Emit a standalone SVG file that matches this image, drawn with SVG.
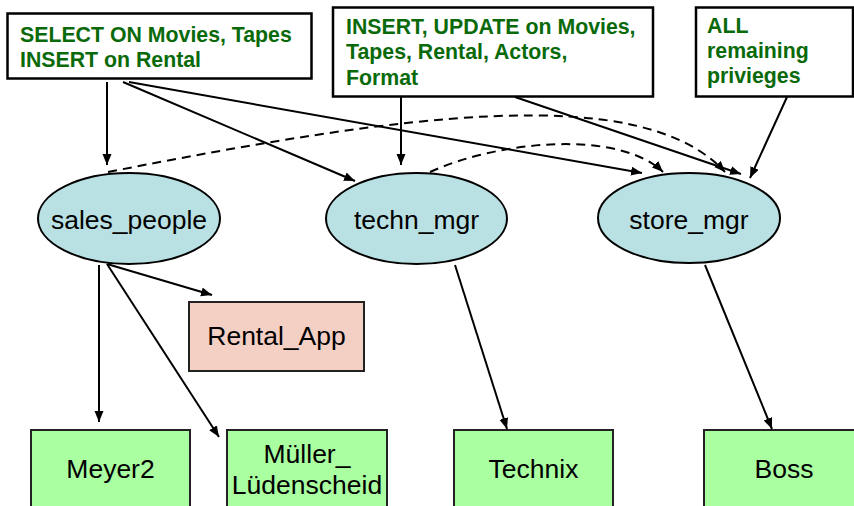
<svg xmlns="http://www.w3.org/2000/svg" width="854" height="506" viewBox="0 0 854 506">
<defs>
<marker id="ah" markerUnits="userSpaceOnUse" markerWidth="12" markerHeight="10" refX="11" refY="4.5" orient="auto">
<path d="M0,0 L11,4.5 L0,9 z" fill="#000"/>
</marker>
<style>
.priv{fill:#fff;stroke:#000;stroke-width:2.5}
.pt{font-family:"Liberation Sans",Arial,sans-serif;font-weight:bold;font-size:21.3px;fill:#0A6A0A}
.role{fill:#B9E0E3;stroke:#000;stroke-width:2}
.user{fill:#AAFFA0;stroke:#222;stroke-width:2}
.app{fill:#F4CFC4;stroke:#222;stroke-width:2}
.lbl{font-family:"Liberation Sans",Arial,sans-serif;font-size:26.5px;fill:#000;text-anchor:middle}
.c{fill:none;stroke:#000;stroke-width:2;marker-end:url(#ah)}
.d{stroke-dasharray:9 6}
</style>
</defs>
<rect width="854" height="506" fill="#fff"/>
<g id="priv_sales">
<rect class="priv" x="7.5" y="13.5" width="304" height="65"/>
<text class="pt" x="20" y="41.5">SELECT ON Movies, Tapes</text>
<text class="pt" x="20" y="67">INSERT on Rental</text>
</g>
<g id="priv_techn">
<rect class="priv" x="333" y="7.5" width="320" height="89"/>
<text class="pt" x="346" y="34">INSERT, UPDATE on Movies,</text>
<text class="pt" x="346" y="59">Tapes, Rental, Actors,</text>
<text class="pt" x="346" y="85">Format</text>
</g>
<g id="priv_store">
<rect class="priv" x="696" y="7.5" width="157" height="89"/>
<text class="pt" x="707" y="33">ALL</text>
<text class="pt" x="707" y="58">remaining</text>
<text class="pt" x="707" y="83">privieges</text>
</g>
<g id="sales_people">
<ellipse class="role" cx="129" cy="218.5" rx="91" ry="45.5"/>
<text class="lbl" x="129" y="229">sales_people</text>
</g>
<g id="techn_mgr">
<ellipse class="role" cx="416.5" cy="218.5" rx="90.5" ry="45.5"/>
<text class="lbl" x="416.5" y="229">techn_mgr</text>
</g>
<g id="store_mgr">
<ellipse class="role" cx="689" cy="218" rx="91" ry="45"/>
<text class="lbl" x="689" y="229">store_mgr</text>
</g>
<g id="rental_app">
<rect class="app" x="189" y="302" width="175" height="69"/>
<text class="lbl" x="276.5" y="345">Rental_App</text>
</g>
<g id="meyer2">
<rect class="user" x="31" y="430" width="159" height="80"/>
<text class="lbl" x="110.5" y="478">Meyer2</text>
</g>
<g id="mueller">
<rect class="user" x="227" y="430" width="160" height="80"/>
<text class="lbl" x="307" y="463">Müller_</text>
<text class="lbl" x="307" y="494">Lüdenscheid</text>
</g>
<g id="technix">
<rect class="user" x="454" y="430" width="159" height="80"/>
<text class="lbl" x="533.5" y="478">Technix</text>
</g>
<g id="boss">
<rect class="user" x="704" y="430" width="160" height="80"/>
<text class="lbl" x="784" y="478">Boss</text>
</g>
<g id="connectors">
<path class="c" d="M107,82 L107,165"/>
<path class="c" d="M123,82 L355,181"/>
<path class="c" d="M129,82 L642,173"/>
<path class="c" d="M401,97 L401,165"/>
<path class="c" d="M515,97 L741,174"/>
<path class="c" d="M787,97 L750,178"/>
<path class="c d" d="M108,172 C400,115 640,80 725,172"/>
<path class="c d" d="M430,172 C500,140 620,130 663,172"/>
<path class="c" d="M99,265 L99,422"/>
<path class="c" d="M107,264 L219,437"/>
<path class="c" d="M107,264 L212,295"/>
<path class="c" d="M455,265 L507,429"/>
<path class="c" d="M705,265 L772,429"/>
</g>
</svg>
